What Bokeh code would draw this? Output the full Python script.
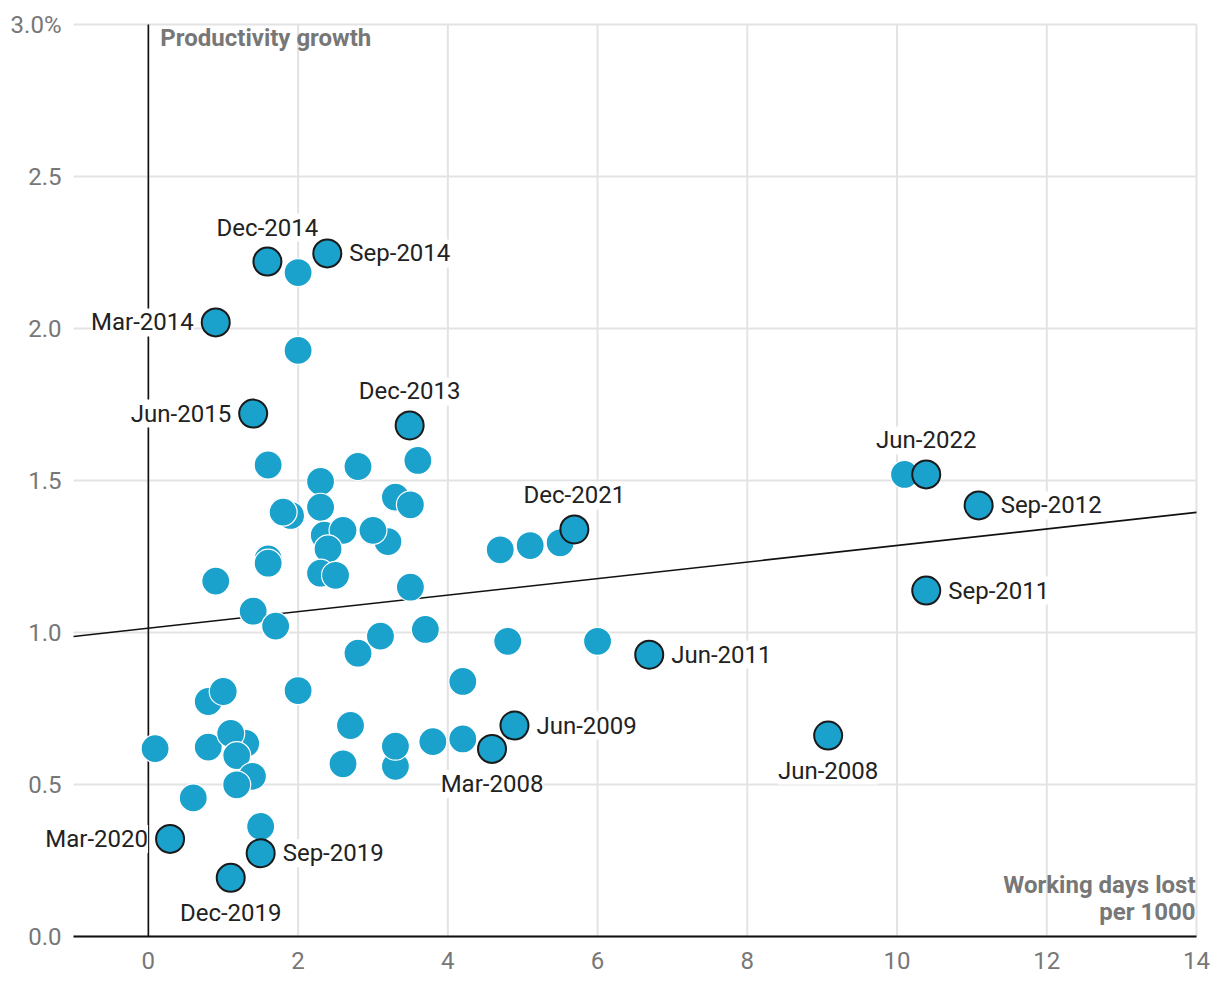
from bokeh.plotting import figure
from bokeh.models import Range1d, Label, FixedTicker, CustomJSTickFormatter
from bokeh.embed import file_html
from bokeh.resources import INLINE

# ---- data ----
other_x = [0.09, 0.6, 0.8, 0.8, 1.0, 1.3, 1.1, 1.18, 1.39, 1.18, 1.5, 2.0, 2.8, 3.1, 3.7,
           4.8, 6.0, 4.2, 2.7, 2.6, 3.3, 3.3, 3.8, 4.2, 4.7, 5.1, 5.5, 3.5,
           1.6, 2.3, 2.8, 3.6, 3.3, 3.5, 1.9, 1.8, 2.3, 2.35, 2.6, 3.2, 3.0, 2.4,
           1.6, 1.6, 0.9, 2.3, 2.5, 1.4, 1.7, 2.0, 2.0, 10.1]
other_y = [0.618, 0.456, 0.773, 0.623, 0.806, 0.635, 0.668, 0.595, 0.527, 0.499, 0.362, 0.809, 0.932, 0.988, 1.01,
           0.971, 0.971, 0.839, 0.694, 0.568, 0.56, 0.626, 0.641, 0.65, 1.272, 1.286, 1.295, 1.149,
           1.551, 1.497, 1.546, 1.566, 1.445, 1.42, 1.385, 1.396, 1.412, 1.32, 1.336, 1.299, 1.336, 1.275,
           1.242, 1.228, 1.169, 1.195, 1.188, 1.07, 1.021, 2.184, 1.928, 1.52]

named_labels = ["Dec-2014", "Sep-2014", "Mar-2014", "Jun-2015", "Dec-2013", "Jun-2022", "Sep-2012",
                "Dec-2021", "Sep-2011", "Jun-2011", "Mar-2008", "Jun-2009", "Jun-2008",
                "Mar-2020", "Sep-2019", "Dec-2019"]
named_x = [1.59, 2.39, 0.9, 1.4, 3.49, 10.39, 11.09, 5.69, 10.39, 6.69, 4.59, 4.89, 9.08, 0.29, 1.5, 1.1]
named_y = [2.22, 2.247, 2.02, 1.72, 1.681, 1.52, 1.418, 1.339, 1.138, 0.927, 0.617, 0.694, 0.661,
           0.321, 0.274, 0.193]
label_side = {"Dec-2014": "above", "Sep-2014": "right", "Mar-2014": "left", "Jun-2015": "left",
              "Dec-2013": "above", "Jun-2022": "above", "Sep-2012": "right", "Dec-2021": "above",
              "Sep-2011": "right", "Jun-2011": "right", "Mar-2008": "below", "Jun-2009": "right",
              "Jun-2008": "below", "Mar-2020": "left", "Sep-2019": "right", "Dec-2019": "below"}

trend_x = [-1, 14]
trend_y = [0.987, 1.395]

x_ticks = [0, 2, 4, 6, 8, 10, 12, 14]
y_ticks = [0.0, 0.5, 1.0, 1.5, 2.0, 2.5, 3.0]
x_min, x_max = -1, 14
y_min, y_max = 0, 3.0

FONT = "Roboto"
BLUE = "#1aa1cc"
GREY = "#777777"
GRID = "#e3e3e3"
FS = "24px"

# The frame is widened beyond the visible data range so that texts lying outside
# it (the "Mar-2020" label and the tick labels) are not clipped; the axes are
# pinned at x=-1 / y=0 and the grid lines are drawn only over the data range.
px_per_x = 74.87
px_per_y = 304.0
pad_left = 65 / px_per_x
pad_right = 16 / px_per_x
pad_top = 16 / px_per_y
pad_bottom = 46 / px_per_y

p = figure(width=1212, height=990,
           x_range=Range1d(x_min - pad_left, x_max + pad_right),
           y_range=Range1d(y_min - pad_bottom, y_max + pad_top),
           output_backend="svg", toolbar_location=None,
           min_border_left=8, min_border_right=0, min_border_top=8, min_border_bottom=8)
p.outline_line_color = None
p.background_fill_color = "white"
p.grid.visible = False

p.xaxis.ticker = FixedTicker(ticks=x_ticks)
p.yaxis.ticker = FixedTicker(ticks=y_ticks)
p.yaxis.formatter = CustomJSTickFormatter(code="return tick >= 3 ? '3.0%' : tick.toFixed(1);")
for ax in (p.xaxis[0], p.yaxis[0]):
    ax.major_tick_line_color = None
    ax.minor_tick_line_color = None
    ax.major_tick_out = 0
    ax.major_tick_in = 0
    ax.major_label_text_font = FONT
    ax.major_label_text_font_size = FS
    ax.major_label_text_color = GREY
p.xaxis.axis_line_color = "#111111"
p.xaxis.axis_line_width = 2
p.xaxis.bounds = (x_min, x_max)
p.xaxis.fixed_location = y_min
p.xaxis.major_label_standoff = 15
p.yaxis.axis_line_color = None
p.yaxis.fixed_location = x_min
p.yaxis.major_label_standoff = 12

# grid lines, limited to the data range
n_x, n_y = len(x_ticks), len(y_ticks)
p.segment(x0=x_ticks, y0=[y_min] * n_x, x1=x_ticks, y1=[y_max] * n_x,
          line_color=GRID, line_width=2)
p.segment(x0=[x_min] * n_y, y0=y_ticks, x1=[x_max] * n_y, y1=y_ticks,
          line_color=GRID, line_width=2)

# vertical zero line
p.segment(x0=[0], y0=[y_min], x1=[0], y1=[y_max], line_color="#111111", line_width=1.6)

# trend line
p.line(trend_x, trend_y, line_color="#111111", line_width=1.6)

# points
p.scatter(other_x, other_y, size=28, fill_color=BLUE, line_color="white", line_width=1.2)
p.scatter(named_x, named_y, size=28, fill_color=BLUE, line_color="#1a1a1a", line_width=2)

offsets = {"above": (0, 34, "center"), "below": (0, -35, "center"),
           "right": (22, 0, "left"), "left": (-22, 0, "right")}
for name, xv, yv in zip(named_labels, named_x, named_y):
    dx, dy, al = offsets[label_side[name]]
    p.add_layout(Label(x=xv, y=yv, x_offset=dx, y_offset=dy, text=name, text_align=al,
                       text_baseline="middle", text_font=FONT, text_font_size=FS,
                       text_color="#222222", background_fill_color="white"))

# axis titles
p.add_layout(Label(x=0, y=y_max, x_offset=12, y_offset=1, text="Productivity growth",
                   text_align="left", text_baseline="top", text_font=FONT,
                   text_font_size="24px", text_font_style="bold", text_color=GREY))
p.add_layout(Label(x=x_max, y=y_min, x_offset=-1, y_offset=52, text="Working days lost",
                   text_align="right", text_baseline="middle", text_font=FONT,
                   text_font_size="24px", text_font_style="bold", text_color=GREY))
p.add_layout(Label(x=x_max, y=y_min, x_offset=-1, y_offset=25, text="per 1000",
                   text_align="right", text_baseline="middle", text_font=FONT,
                   text_font_size="24px", text_font_style="bold", text_color=GREY))

open("out.html", "w").write(file_html(p, INLINE))
